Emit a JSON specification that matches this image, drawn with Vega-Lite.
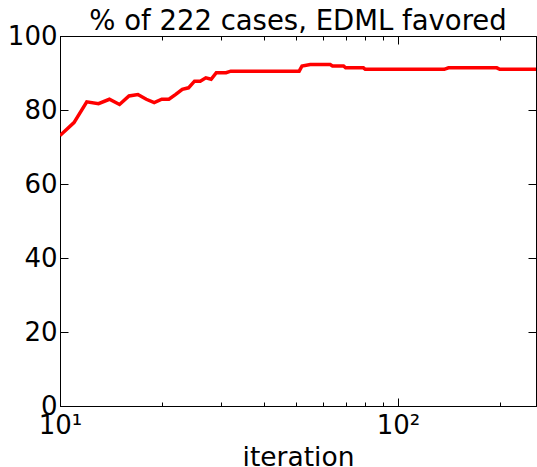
{
  "$schema": "https://vega.github.io/schema/vega-lite/v6.json",
  "width": 476,
  "height": 370,
  "autosize": {"type": "none"},
  "padding": {"left": 60, "top": 36, "right": 1, "bottom": 61},
  "background": "white",
  "config": {
    "font": "DejaVu Sans",
    "view": {"stroke": "black", "strokeWidth": 1},
    "axis": {"grid": false, "domainColor": "black", "tickColor": "black", "labelColor": "black", "titleColor": "black", "labelFont": "DejaVu Sans", "titleFont": "DejaVu Sans", "titleFontWeight": "normal"}
  },
  "title": {"text": "% of 222 cases, EDML favored", "fontSize": 27.5, "fontWeight": "normal", "font": "DejaVu Sans", "color": "black", "offset": -12, "anchor": "middle"},
  "data": {"values": [
    {"iteration": 10, "pct": 73.1},
    {"iteration": 11, "pct": 76.6},
    {"iteration": 12, "pct": 82.2},
    {"iteration": 13, "pct": 81.7},
    {"iteration": 14, "pct": 82.9},
    {"iteration": 15, "pct": 81.5},
    {"iteration": 16, "pct": 83.8},
    {"iteration": 17, "pct": 84.2},
    {"iteration": 18, "pct": 82.9},
    {"iteration": 19, "pct": 82.0},
    {"iteration": 20, "pct": 82.9},
    {"iteration": 21, "pct": 82.9},
    {"iteration": 22, "pct": 84.2},
    {"iteration": 23, "pct": 85.6},
    {"iteration": 24, "pct": 86.0},
    {"iteration": 25, "pct": 87.8},
    {"iteration": 26, "pct": 87.8},
    {"iteration": 27, "pct": 88.7},
    {"iteration": 28, "pct": 88.3},
    {"iteration": 29, "pct": 90.1},
    {"iteration": 31, "pct": 90.1},
    {"iteration": 32, "pct": 90.5},
    {"iteration": 51, "pct": 90.5},
    {"iteration": 52, "pct": 91.9},
    {"iteration": 55, "pct": 92.3},
    {"iteration": 63, "pct": 92.3},
    {"iteration": 64, "pct": 91.9},
    {"iteration": 69, "pct": 91.9},
    {"iteration": 70, "pct": 91.4},
    {"iteration": 79, "pct": 91.4},
    {"iteration": 80, "pct": 91.0},
    {"iteration": 137, "pct": 91.0},
    {"iteration": 141, "pct": 91.4},
    {"iteration": 196, "pct": 91.4},
    {"iteration": 200, "pct": 91.0},
    {"iteration": 256, "pct": 91.0}
  ]},
  "resolve": {"axis": {"x": "independent", "y": "independent"}},
  "layer": [
    {
      "mark": {"type": "line", "color": "#ff0000", "strokeWidth": 3.5, "clip": true},
      "encoding": {
        "x": {"field": "iteration", "type": "quantitative",
          "scale": {"type": "log", "domain": [10, 256], "nice": false},
          "axis": {"orient": "bottom", "title": "iteration", "titleFontSize": 26.5, "titlePadding": 2,
            "values": [10, 20, 30, 40, 50, 60, 70, 80, 90, 100, 200],
            "labelExpr": "datum.value == 10 ? '10¹' : (datum.value == 100 ? '10²' : '')",
            "labelFontSize": 26, "labelPadding": 14, "labelFlush": false, "labelOverlap": false,
            "tickSize": {"condition": {"test": "datum.value == 10 || datum.value == 100", "value": -8}, "value": -4}}},
        "y": {"field": "pct", "type": "quantitative",
          "scale": {"domain": [0, 100], "nice": false, "zero": true},
          "axis": {"orient": "left", "title": null, "values": [0, 20, 40, 60, 80, 100],
            "labelFontSize": 26, "labelPadding": 11, "tickSize": -8}}
      }
    },
    {
      "mark": {"type": "line", "strokeOpacity": 0},
      "encoding": {
        "x": {"field": "iteration", "type": "quantitative",
          "axis": {"orient": "top", "title": null, "labels": false,
            "values": [10, 20, 30, 40, 50, 60, 70, 80, 90, 100, 200],
            "tickSize": {"condition": {"test": "datum.value == 10 || datum.value == 100", "value": -8}, "value": -4}}},
        "y": {"field": "pct", "type": "quantitative",
          "axis": {"orient": "right", "title": null, "labels": false, "values": [0, 20, 40, 60, 80, 100], "tickSize": -8}}
      }
    }
  ]
}
